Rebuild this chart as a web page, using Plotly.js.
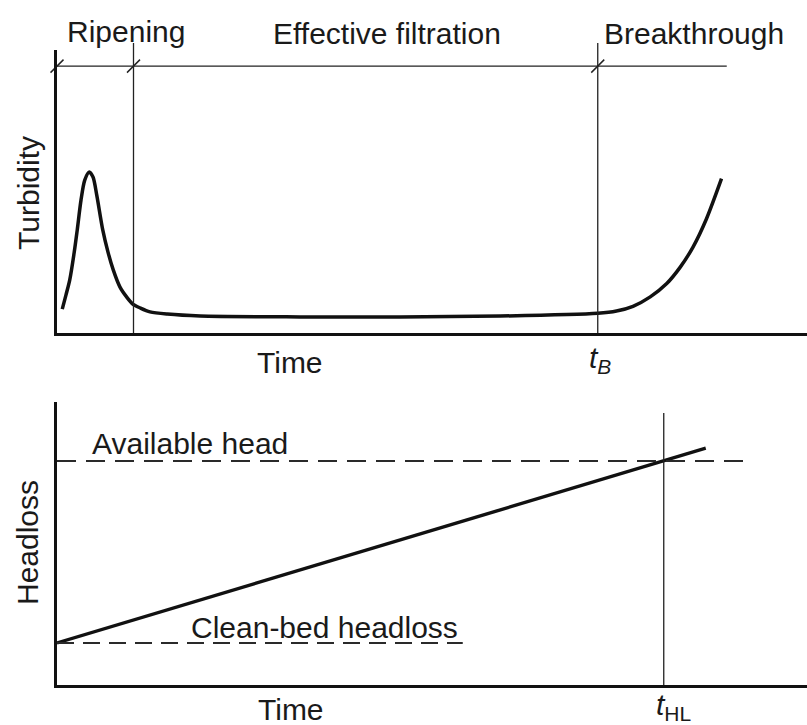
<!DOCTYPE html>
<html>
<head>
<meta charset="utf-8">
<script src="https://cdn.plot.ly/plotly-3.0.1.min.js"></script>
<style>html,body{margin:0;padding:0;background:#fff;}#chart{width:807px;height:725px;}</style>
</head>
<body>
<div id="chart"></div>
<script>
// ---- Data (arbitrary units) ----
const timeTurb = [0.7,1.2,1.7,2.3,2.7,3.2,3.7,4.3,4.8,5.3,6.1,6.8,7.5,8.4,9.3,10.1,11.1,12.4,14.7,19.1,32.4,45.7,59.1,72.1,74.6,76.8,79.1,81.3,83.1,84.8,86.6,88.6];
const turbidity = [8.6,13.7,19.1,29.1,37.1,47.8,55.0,57.9,56.1,49.6,37.1,29.1,22.7,16.5,12.9,10.4,9.0,7.6,6.8,6.1,5.8,5.8,6.1,7.1,7.9,9.6,13.0,17.8,23.7,30.9,41.1,55.5];
const phaseBounds = [0, 10.2, 72.1];          // start, end of ripening, t_B
const phaseLabels = ["Ripening", "Effective filtration", "Breakthrough"];
const phaseLabelX = [9.2, 44.0, 84.9];
const phaseLineLevel = 96;
const phaseLineEnd = 89.3;

const timeHL = [0, 86.5];
const headloss = [15, 84.6];
const availableHead = 80;
const availableHeadEnd = 92.8;
const cleanBedHeadloss = 15;
const cleanBedEnd = 54.1;
const tHL = 80.9;

const FONT = "Liberation Sans, Arial, sans-serif";
const FS = 30;
const TXT = "#1a1a1a";

const H = 725, W = 807;
const py = p => 1 - p / H;        // pixel row -> paper
const yTop = [py(333), py(50)];
const yBot = [py(685), py(402.2)];
const xDom = [57 / W, 1];

const axisBase = {showgrid:false, zeroline:false, showticklabels:false, ticks:'', showline:true, linewidth:3, linecolor:'#111', fixedrange:true};

const traces = [
  {x: timeTurb, y: turbidity, xaxis:'x', yaxis:'y', mode:'lines', line:{shape:'spline', smoothing:0.8, color:'#111', width:3.5}, hoverinfo:'skip'},
  {x: [0, phaseLineEnd], y: [phaseLineLevel, phaseLineLevel], xaxis:'x', yaxis:'y', mode:'lines', line:{color:'#222', width:1.3}, hoverinfo:'skip'},
  {x: phaseBounds, y: phaseBounds.map(()=>phaseLineLevel), xaxis:'x', yaxis:'y', mode:'markers', cliponaxis:false,
   marker:{symbol:'line-ne', size:13, color:'#222', line:{width:1.5, color:'#222'}}, hoverinfo:'skip'},
  {x: timeHL, y: headloss, xaxis:'x2', yaxis:'y2', mode:'lines', line:{color:'#111', width:3.3}, hoverinfo:'skip'},
  {x: [0, availableHeadEnd], y: [availableHead, availableHead], xaxis:'x2', yaxis:'y2', mode:'lines', line:{color:'#2a2a2a', width:2, dash:'19px,10px'}, hoverinfo:'skip'},
  {x: [0, cleanBedEnd], y: [cleanBedHeadloss, cleanBedHeadloss], xaxis:'x2', yaxis:'y2', mode:'lines', line:{color:'#2a2a2a', width:2, dash:'17px,9px'}, hoverinfo:'skip'}
];

const shapes = [
  {type:'line', xref:'x', yref:'paper', x0:phaseBounds[1], x1:phaseBounds[1], y0:yTop[0], y1:py(43), line:{color:'#222', width:1.3}},
  {type:'line', xref:'x', yref:'paper', x0:phaseBounds[2], x1:phaseBounds[2], y0:yTop[0], y1:py(43), line:{color:'#222', width:1.3}},
  {type:'line', xref:'x2', yref:'y2', x0:tHL, x1:tHL, y0:0, y1:97.1, line:{color:'#222', width:1.3}}
];

const f = {family:FONT, size:FS, color:TXT};
const A = (o) => Object.assign({showarrow:false, font:f, xanchor:'center', yanchor:'middle'}, o);
const annotations = [
  A({text:phaseLabels[0], xref:'x', yref:'paper', x:phaseLabelX[0], y:py(31)}),
  A({text:phaseLabels[1], xref:'x', yref:'paper', x:phaseLabelX[1], y:py(33)}),
  A({text:phaseLabels[2], xref:'x', yref:'paper', x:phaseLabelX[2], y:py(33)}),
  A({text:'Time', xref:'x', yref:'paper', x:31.1, y:py(362)}),
  A({text:'<i>t</i><sub><i>B</i></sub>', xref:'x', yref:'paper', x:72.4, y:py(359)}),
  A({text:'Turbidity', xref:'paper', yref:'y', x:29/W, y:50.4, textangle:-90}),
  A({text:'Time', xref:'x2', yref:'paper', x:31.2, y:py(709)}),
  A({text:'<i>t</i><sub>HL</sub>', xref:'x2', yref:'paper', x:82.2, y:py(706)}),
  A({text:'Available head', xref:'x2', yref:'y2', x:17.7, y:86.4}),
  A({text:'Clean-bed headloss', xref:'x2', yref:'y2', x:35.7, y:20.4}),
  A({text:'Headloss', xref:'paper', yref:'y2', x:27/W, y:50.7, textangle:-90})
];

const layout = {
  width:W, height:H,
  margin:{l:0, r:0, t:0, b:0},
  paper_bgcolor:'#fff', plot_bgcolor:'#fff',
  showlegend:false,
  xaxis: Object.assign({}, axisBase, {domain:xDom, range:[0,100], anchor:'y'}),
  yaxis: Object.assign({}, axisBase, {domain:yTop, range:[0,101.8], anchor:'x'}),
  xaxis2: Object.assign({}, axisBase, {domain:xDom, range:[0,100], anchor:'y2'}),
  yaxis2: Object.assign({}, axisBase, {domain:yBot, range:[0,101], anchor:'x2'}),
  shapes: shapes,
  annotations: annotations
};

Plotly.newPlot('chart', traces, layout, {staticPlot:true, displayModeBar:false});
</script>
</body>
</html>
